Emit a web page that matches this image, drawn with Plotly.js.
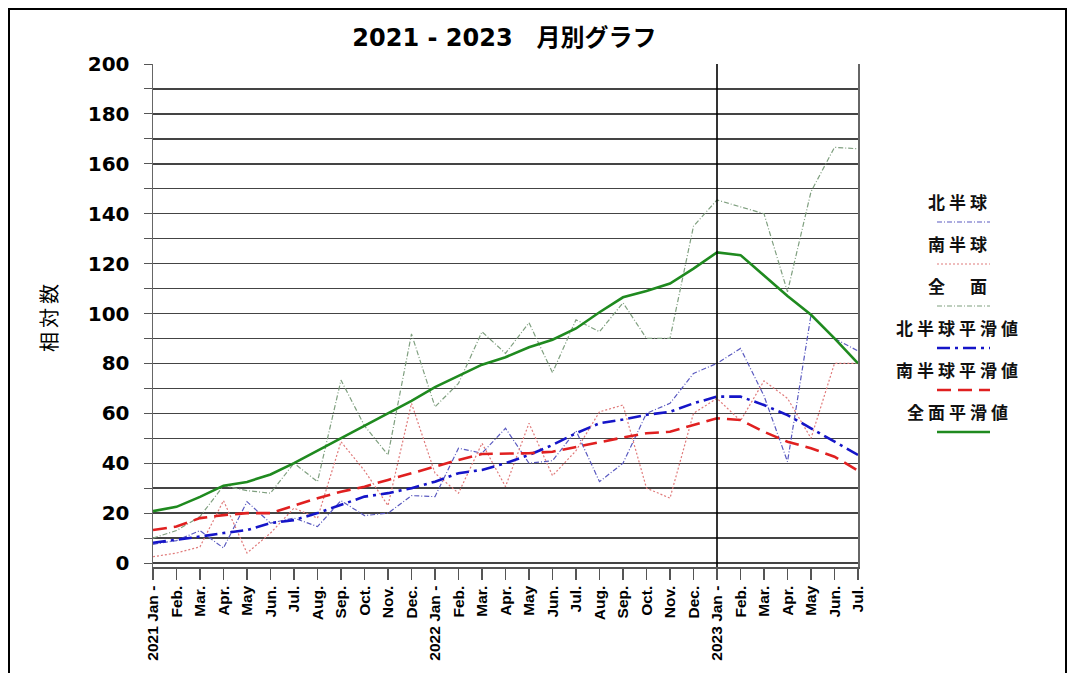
<!DOCTYPE html>
<html>
<head>
<meta charset="utf-8">
<script src="https://cdn.plot.ly/plotly-3.0.1.min.js"></script>
<style>
  html, body { margin: 0; padding: 0; background: #fff; }
  #wrap { position: relative; width: 1078px; height: 673px; overflow: hidden; }
  #chart { width: 1078px; height: 673px; }
  #frame { position: absolute; left: 8px; top: 8px; width: 1059px; height: 700px;
           border: 2px solid #000; pointer-events: none; box-sizing: border-box; }
  .annotation-text { letter-spacing: 4px; }
</style>
</head>
<body>
<div id="wrap"><div id="chart"></div><div id="frame"></div></div>
<script>
// ---- data ----
const months = ['2021 Jan -','Feb.','Mar.','Apr.','May','Jun.','Jul.','Aug.','Sep.','Oct.','Nov.','Dec.',
                '2022 Jan -','Feb.','Mar.','Apr.','May','Jun.','Jul.','Aug.','Sep.','Oct.','Nov.','Dec.',
                '2023 Jan -','Feb.','Mar.','Apr.','May','Jun.','Jul.'];
const north = [7.5, 9, 13, 6, 24.6, 16, 18, 14.6, 25, 19, 20, 27,
               26.6, 46, 44, 54, 40, 41, 53, 32.6, 40, 60, 64, 76,
               80, 86, 67, 40.6, 99.4, 90, 85];
const south = [2.5, 4, 6.5, 25, 4, 12, 22, 18, 48.6, 37, 23, 64,
               36, 28, 48, 30.6, 56, 35, 45, 60.6, 63.3, 30, 26, 60,
               66, 57, 73, 66, 50, 80, 80];
const total = [10, 13, 18.6, 31, 29, 28, 40, 32.6, 73.3, 55, 43.3, 91.8,
               62.6, 72, 92.7, 84, 96.3, 76.3, 97.5, 92.7, 104.3, 90, 90, 135,
               145.5, 142.8, 140, 108.7, 148.8, 166.6, 166];
const northSmooth = [8.1, 9.2, 10.6, 12, 13.2, 16, 17.2, 20, 23.2, 26.6, 28, 30,
                     32.6, 36, 37.3, 40, 43.3, 47.3, 52, 56, 57.5, 59.4, 60.6, 64,
                     66.7, 66.7, 63.3, 59.3, 54, 48.6, 43.3];
const southSmooth = [13.2, 14.6, 18, 19.2, 20, 20, 23, 26, 28.6, 30.6, 33.3, 36,
                     38.6, 41.3, 43.7, 44, 44, 44.6, 46.6, 48.6, 50.3, 52, 52.6, 55.3,
                     58, 57.3, 52.6, 48.6, 46, 42.6, 37];
const totalSmooth = [20.8, 22.5, 26.5, 31, 32.5, 35.5, 40, 45, 50, 55, 60, 65,
                     70.5, 75, 79.5, 82.5, 86.5, 89.5, 94, 100.5, 106.5, 109, 112, 118,
                     124.5, 123.4, 115, 107, 99.5, 90, 80];
const yTickVals = [0, 20, 40, 60, 80, 100, 120, 140, 160, 180, 200];
const seriesNames = ['北半球','南半球','全　面','北半球平滑値','南半球平滑値','全面平滑値'];
const titleText = '2021 - 2023　月別グラフ';
const yTitle = '相対数';

// ---- build ----
const xIdx = months.map((m, i) => i);
const styles = [
  {color: '#5a5ac0', width: 1.2, dash: '5px,2px,1px,2px'},
  {color: '#e07a7a', width: 1.2, dash: '2px,2px'},
  {color: '#7f9f7f', width: 1.2, dash: '5px,2px,1px,2px'},
  {color: '#1515c8', width: 2.6, dash: '13px,5px,3px,5px'},
  {color: '#e02020', width: 2.6, dash: '14px,7px'},
  {color: '#1f8a1f', width: 2.6, dash: 'solid'}
];
const seriesData = [north, south, total, northSmooth, southSmooth, totalSmooth];
const traces = seriesData.map((d, k) => ({
  x: xIdx, y: d, type: 'scatter', mode: 'lines', name: seriesNames[k],
  line: {color: styles[k].color, width: styles[k].width, dash: styles[k].dash},
  showlegend: false, hoverinfo: 'skip'
}));

// plot geometry (pixels) for legend placement in paper coords
const L = 153, R = 858, T = 64, B = 567;
const px = v => (v - L) / (R - L);
const py = v => (B - v) / (B - T);

const shapes = [];
const annotations = [];
const split = months.indexOf('2023 Jan -');
shapes.push({type: 'line', xref: 'x', yref: 'paper', x0: split, x1: split, y0: 0, y1: 1,
             line: {color: '#000', width: 1.6}});

seriesNames.forEach((n, k) => {
  const ty = 201 + 42 * k;
  const ly = 222 + 42 * k;
  annotations.push({xref: 'paper', yref: 'paper', x: px(959), y: py(ty), xanchor: 'center', yanchor: 'middle',
    text: n, showarrow: false, font: {family: 'Noto Sans CJK JP', size: 17, weight: 'bold', color: '#111'}});
  shapes.push({type: 'line', xref: 'paper', yref: 'paper', x0: px(937), x1: px(990), y0: py(ly), y1: py(ly),
    line: {color: styles[k].color, width: styles[k].width, dash: styles[k].dash}});
});

// y-axis title placed as annotation at the reference position
annotations.push({xref: 'paper', yref: 'paper', x: px(48), y: py(316), xanchor: 'center', yanchor: 'middle',
  text: yTitle, textangle: -90, showarrow: false,
  font: {family: 'Noto Sans CJK JP', size: 20, color: '#000'}});

const layout = {
  width: 1078, height: 673,
  margin: {l: L, r: 1078 - R, t: T, b: 673 - B},
  paper_bgcolor: '#fff', plot_bgcolor: '#fff',
  title: {text: titleText, x: 0.468, xanchor: 'center', y: 1 - 38 / 673, yanchor: 'middle', yref: 'container',
          font: {family: 'DejaVu Sans, Noto Sans CJK JP', size: 24, weight: 'bold', color: '#000'}},
  xaxis: {range: [0, 30], tickvals: xIdx, ticktext: months, tickangle: -90,
          showgrid: false, zeroline: false, showline: true, linecolor: '#555', linewidth: 1.5,
          ticks: 'outside', ticklen: 11, tickcolor: '#555', tickwidth: 1.2,
          tickfont: {family: 'Arial', size: 15.5, weight: 'bold', color: '#000'}, fixedrange: true},
  yaxis: {range: [-1.6, 200], tickvals: yTickVals,
          showgrid: true, gridcolor: '#444', gridwidth: 1.4,
          minor: {dtick: 10, showgrid: true, gridcolor: '#444', gridwidth: 1.4, ticks: 'outside', ticklen: 8, tickcolor: '#555'},
          zeroline: true, zerolinecolor: '#444', zerolinewidth: 1.4,
          showline: true, mirror: true, linecolor: '#666', linewidth: 1.5,
          ticks: 'outside', ticklen: 8, tickcolor: '#555', ticklabelstandoff: 10,
          tickfont: {family: 'DejaVu Sans', size: 20, weight: 'bold', color: '#000'},
          fixedrange: true},
  shapes: shapes, annotations: annotations
};
Plotly.newPlot('chart', traces, layout, {staticPlot: true, displayModeBar: false});
</script>
</body>
</html>
